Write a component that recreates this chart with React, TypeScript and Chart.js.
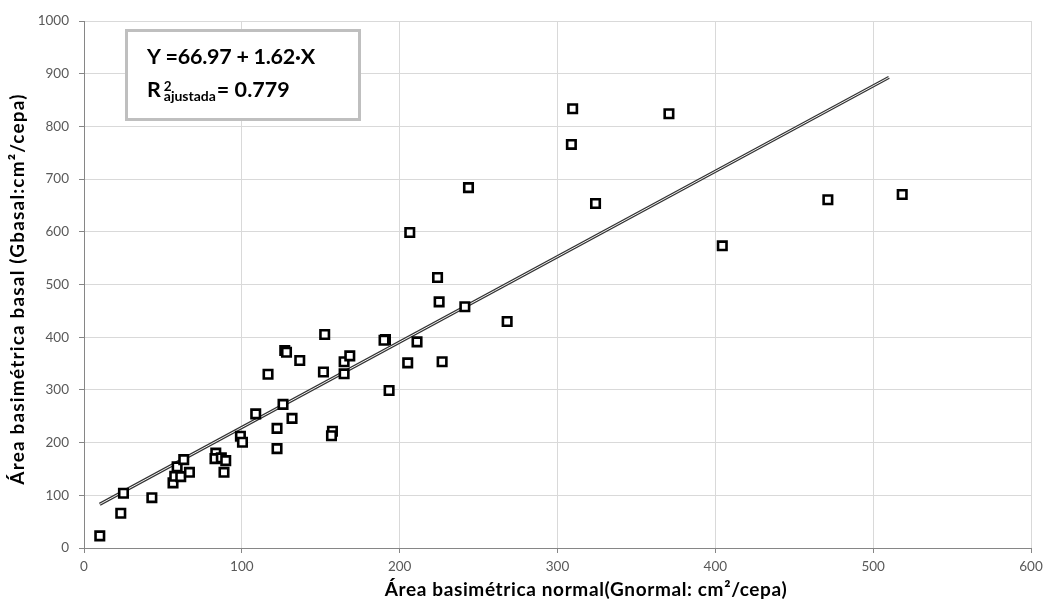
import React, { useEffect, useRef } from "react";
import { Chart, registerables } from "chart.js";

Chart.register(...registerables);

// Observed data (Gnormal vs Gbasal, cm²/cepa)
const xValues = [
  10, 23.3, 25, 43, 56.4, 57.5, 59, 61.3, 63.2, 66.8,
  83.5, 83, 87, 89.8, 88.7, 99.1, 100.4, 108.8, 122.3, 122.3,
  126.1, 131.8, 157.4, 156.8, 152.5, 127.2, 128.3, 136.7, 116.6, 151.7,
  164.8, 168.4, 164.8, 224, 225, 241.3, 268.1, 191, 190.1, 211,
  205.1, 226.9, 193.3, 206.4, 243.6, 309.6, 308.8, 370.6, 324.1, 471.3,
  518.4, 404.4,
];
const yValues = [
  23, 66, 104, 95.5, 123.5, 136, 154, 135.4, 167.7, 143.6,
  180, 169.6, 171, 165.8, 143.6, 212, 200.6, 254.5, 227, 188.6,
  272.5, 246, 221.5, 213, 405, 374.7, 371.5, 355.7, 329.7, 334,
  353.3, 364.6, 330.5, 513.4, 467, 457.7, 429.8, 395.6, 394.3, 391.2,
  351.3, 353.3, 298.8, 598.8, 683.8, 833.5, 765.8, 824, 653.8, 660.8,
  670.9, 573.4,
];

// Fitted line end points
const trendX = [10, 510];
const trendY = [83, 893];

const xTicks = [0, 100, 200, 300, 400, 500, 600];
const yTicks = [0, 100, 200, 300, 400, 500, 600, 700, 800, 900, 1000];

const equationText = "Y =66.97 + 1.62·X";
const r2Label = "R";
const r2Sup = "2";
const r2Sub = "ajustada";
const r2Value = "= 0.779";
const xTitle = "Área basimétrica normal(Gnormal: cm²/cepa)";
const yTitle = "Área basimétrica basal (Gbasal:cm²/cepa)";

const FONT = "Lato";

function fitText(ctx: CanvasRenderingContext2D, text: string, target: number) {
  (ctx as any).letterSpacing = "0px";
  const w = ctx.measureText(text).width;
  const ls = (target - w) / Math.max(1, text.length - 1);
  (ctx as any).letterSpacing = `${ls.toFixed(2)}px`;
}

const decorPlugin = {
  id: "decor",
  afterDraw(chart: any) {
    const ctx = chart.ctx as CanvasRenderingContext2D;
    ctx.save();
    // equation box
    ctx.fillStyle = "#ffffff";
    ctx.fillRect(126, 30, 234, 90);
    ctx.strokeStyle = "#bfbfbf";
    ctx.lineWidth = 3;
    ctx.strokeRect(126.5, 30.5, 233, 89);
    ctx.fillStyle = "#000000";
    ctx.textBaseline = "alphabetic";
    ctx.textAlign = "left";
    ctx.font = `bold 21.5px ${FONT}`;
    fitText(ctx, equationText, 168);
    ctx.fillText(equationText, 147, 64);
    (ctx as any).letterSpacing = "0px";
    ctx.fillText(r2Label, 147, 97);
    const wR = ctx.measureText(r2Label).width;
    const subX = 147 + wR + 3;
    ctx.font = `bold 13.5px ${FONT}`;
    ctx.fillText(r2Sup, subX, 91);
    ctx.font = `bold 14px ${FONT}`;
    fitText(ctx, r2Sub, 52);
    ctx.fillText(r2Sub, subX, 101);
    (ctx as any).letterSpacing = "0px";
    ctx.font = `bold 21.5px ${FONT}`;
    fitText(ctx, r2Value, 73);
    ctx.fillText(r2Value, subX + 53, 97);

    // axis titles
    ctx.font = `bold 19px ${FONT}`;
    ctx.textAlign = "center";
    ctx.textBaseline = "alphabetic";
    fitText(ctx, xTitle, 402);
    ctx.fillText(xTitle, 586, 596);
    ctx.save();
    ctx.translate(24, 289);
    ctx.rotate(-Math.PI / 2);
    fitText(ctx, yTitle, 390);
    ctx.fillText(yTitle, 0, 0);
    ctx.restore();
    ctx.restore();
  },
};

export default function App() {
  const ref = useRef<HTMLCanvasElement>(null);

  useEffect(() => {
    const pts = xValues.map((x, i) => ({ x, y: yValues[i] }));
    const trend = trendX.map((x, i) => ({ x, y: trendY[i] }));
    const tickFont = { family: FONT, size: 13.5 };

    const chart = new Chart(ref.current!, {
      type: "scatter",
      data: {
        datasets: [
          {
            label: "Datos",
            data: pts,
            pointStyle: "rect",
            pointRadius: 6,
            pointBorderWidth: 2.6,
            pointBorderColor: "#000000",
            pointBackgroundColor: "#ffffff",
            borderColor: "#000000",
            backgroundColor: "#ffffff",
            order: 0,
          } as any,
          {
            label: "Ajuste (centro)",
            data: trend,
            showLine: true,
            borderColor: "#eeeeee",
            borderWidth: 1,
            pointRadius: 0,
            order: 1,
          } as any,
          {
            label: "Ajuste",
            data: trend,
            showLine: true,
            borderColor: "#333333",
            borderWidth: 3.2,
            pointRadius: 0,
            order: 2,
          } as any,
        ],
      },
      options: {
        responsive: false,
        animation: false,
        layout: { padding: { left: 0, right: 12, top: 21, bottom: 0 } },
        plugins: { legend: { display: false }, tooltip: { enabled: false } },
        scales: {
          x: {
            type: "linear",
            min: 0,
            max: 600,
            afterBuildTicks: (s: any) => {
              s.ticks = xTicks.map((v) => ({ value: v }));
            },
            afterFit: (s: any) => {
              s.height = 52;
              s.paddingLeft = 0;
              s.paddingRight = 0;
            },
            grid: { color: "#d9d9d9", tickColor: "#868686", tickLength: 5, lineWidth: 1 },
            border: { color: "#868686", width: 1 },
            ticks: {
              font: tickFont,
              color: "#595959",
              padding: 6,
              maxRotation: 0,
              callback: (v: any) => String(v),
            },
            title: { display: false },
          },
          y: {
            type: "linear",
            min: 0,
            max: 1000,
            afterBuildTicks: (s: any) => {
              s.ticks = yTicks.map((v) => ({ value: v }));
            },
            afterFit: (s: any) => {
              s.width = 84;
              s.paddingTop = 0;
              s.paddingBottom = 0;
            },
            grid: { color: "#d9d9d9", tickColor: "#868686", tickLength: 5, lineWidth: 1 },
            border: { color: "#868686", width: 1 },
            ticks: {
              font: tickFont,
              color: "#595959",
              padding: 10,
              callback: (v: any) => String(v),
            },
            title: { display: false },
          },
        },
      },
      plugins: [decorPlugin],
    });
    return () => chart.destroy();
  }, []);

  return (
    <div style={{ position: "absolute", left: 0, top: 0, width: 1043, height: 600, background: "#ffffff" }}>
      <canvas ref={ref} width={1043} height={600} style={{ display: "block", width: 1043, height: 600 }} />
    </div>
  );
}
